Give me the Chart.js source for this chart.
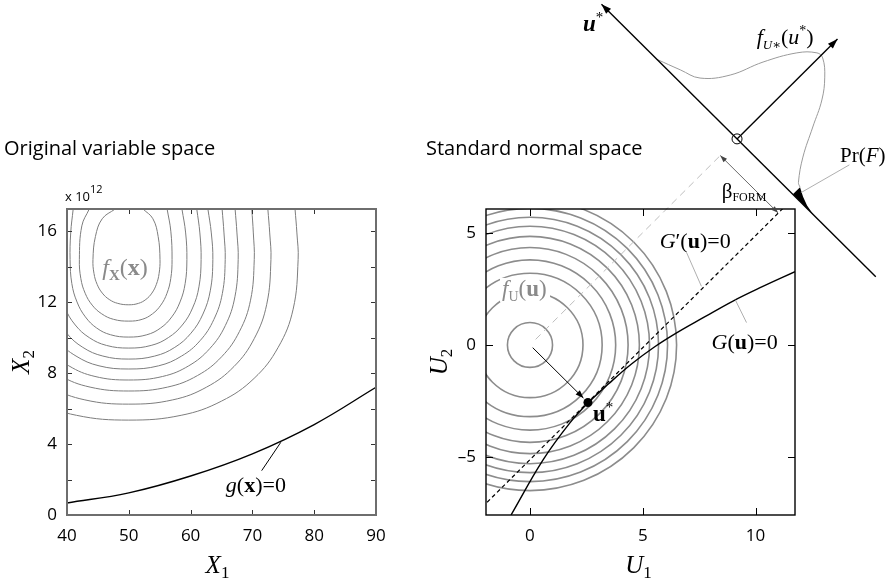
<!DOCTYPE html>
<html>
<head>
<meta charset="utf-8">
<script src="https://cdn.jsdelivr.net/npm/chart.js@4.4.1/dist/chart.umd.min.js"></script>
<style>
  body { margin: 0; background: #fff; width: 887px; height: 582px; position: relative; overflow: hidden; }
  #left { position: absolute; left: 0; top: 0; }
  #right { position: absolute; left: 400px; top: 0; }
</style>
</head>
<body>
<canvas id="left" width="400" height="582"></canvas>
<canvas id="right" width="487" height="582"></canvas>
<script>
// ---------- left panel: original variable space (X2 in units of 10^12) ----------
const x1Ticks = [40, 50, 60, 70, 80, 90];
const x2Ticks = [0, 2, 4, 6, 8, 10, 12, 14, 16];
const x2Labelled = [0, 4, 8, 12, 16];

// limit state g(x)=0
const gX1 = [40, 50, 60, 70, 80, 90];
const gX2 = [0.68, 1.25, 2.2, 3.45, 5.1, 7.2];

// contour lines of f_X(x), innermost first as [x1, x2]
const fxContours = [
  [[47.8,17.25],[45.7,16.7],[44.6,15.7],[44.2,14.4],[44.37,13.61],[44.88,13.0],[45.71,12.51],[46.83,12.15],[48.21,11.93],[50,11.85],
   [51.56,11.93],[52.76,12.15],[53.74,12.51],[54.46,13.0],[54.9,13.61],[55.05,14.4],[54.75,15.7],[53.9,16.7],[52.3,17.25]],
  [[43.6,17.25],[42.4,16.3],[42.0,14.4],[42.24,13.33],[42.94,12.5],[44.08,11.83],[45.62,11.34],[47.53,11.03],[50,10.93],
   [52.16,11.03],[53.83,11.34],[55.18,11.83],[56.18,12.5],[56.79,13.33],[57.0,14.4],[56.8,16.0],[56.2,17.25]],
  [[41.0,17.25],[40.6,15.9],[40.5,14.4],[40.78,13.05],[41.62,12.01],[42.97,11.17],[44.8,10.54],[47.06,10.16],[50,10.03],
   [52.91,10.16],[55.14,10.54],[56.96,11.17],[58.29,12.01],[59.12,13.05],[59.4,14.4],[59.2,15.9],[58.6,17.25]],
  [[38.3,14.4],[38.65,12.86],[39.68,11.67],[41.34,10.71],[43.6,10.0],[46.38,9.56],[50,9.41],
   [53.62,9.56],[56.4,10.0],[58.66,10.71],[60.32,11.67],[61.35,12.86],[61.7,14.4],[61.5,15.9],[61.0,17.25]],
  [[36.4,14.4],[36.8,12.67],[38.0,11.33],[39.94,10.25],[42.56,9.45],[45.8,8.96],[50,8.79],
   [54.2,8.96],[57.44,9.45],[60.06,10.25],[62.0,11.33],[63.2,12.67],[63.6,14.4],[63.35,15.9],[62.8,17.25]],
  [[34.4,14.4],[34.86,12.49],[36.24,11.02],[38.46,9.83],[41.46,8.96],[45.18,8.41],[50,8.23],
   [54.82,8.41],[58.54,8.96],[61.54,9.83],[63.76,11.02],[65.14,12.49],[65.6,14.4],[65.4,15.9],[65.1,17.25]],
  [[32.3,14.4],[32.83,12.3],[34.38,10.68],[36.9,9.38],[40.3,8.41],[44.53,7.81],[50,7.61],
   [55.47,7.81],[59.7,8.41],[63.1,9.38],[65.62,10.68],[67.17,12.3],[67.7,14.4],[67.5,15.9],[67.2,17.25]],
  [[29.7,14.4],[30.3,12.11],[32.09,10.35],[34.98,8.92],[38.89,7.86],[43.73,7.21],[50,6.99],
   [56.27,7.21],[61.11,7.86],[65.02,8.92],[67.91,10.35],[69.7,12.11],[70.3,14.4],[70.15,15.9],[69.9,17.25]],
  [[27,14.4],[27.68,11.88],[29.71,9.94],[32.98,8.37],[37.41,7.21],[42.89,6.49],[50,6.25],
   [57.11,6.49],[62.59,7.21],[67.02,8.37],[70.29,9.94],[72.32,11.88],[73.0,14.4],[72.8,15.9],[72.5,17.25]],
  [[22.6,14.4],[23.41,11.6],[25.83,9.45],[29.73,7.7],[35.0,6.42],[41.53,5.62],[50,5.35],
   [58.47,5.62],[65.0,6.42],[70.27,7.7],[74.17,9.45],[76.59,11.6],[77.4,14.4],[77.2,15.9],[76.9,17.25]]
];

// ---------- right panel: standard normal space ----------
const u1Ticks = [0, 5, 10];
const u2Ticks = [-5, 0, 5];
const fuRadii = [1, 2.35, 3.2, 3.8, 4.35, 4.85, 5.3, 5.7, 6.1, 6.5];

// limit state G(u)=0
const gU1 = [-0.84, 0.58, 1.77, 2.57, 3.5, 4.5, 5.5, 6.5, 7.74, 8.98, 10.3, 11.75];
const gU2 = [-7.59, -5.13, -3.48, -2.59, -1.72, -0.85, -0.1, 0.54, 1.25, 1.95, 2.6, 3.27];

// linearised limit state G'(u)=0
const tangentU1 = [-3, 12];
const tangentU2 = [-8.12, 6.88];

const uStar = [2.57, -2.57];
const betaForm = 3.62;

// projected view: origin of the rotated frame and its axes (s along u*, t up)
const projCentre = [9.18, 9.2];
const projAxisS = [-8.5, 8.7];
const projAxisT = 6.3;
const pdfS = [-5.02, -3.96, -3.08, -2.23, -1.61, -0.84, -0.21, 0.13, 0.8, 1.43, 2.0, 2.64, 3.3, 3.5];
const pdfT = [0, 0.4, 0.76, 1.8, 3.24, 4.59, 5.22, 5.24, 4.7, 3.89, 2.75, 1.49, 0.55, 0.45];
const tailS = [3.5, 3.9, 4.3, 4.8];
const tailT = [0.45, 0.24, 0.09, 0];

// ---------- helpers ----------
const SERIF = '"Liberation Serif", "DejaVu Serif", serif';
const SANS = '"Open Sans", "DejaVu Sans", sans-serif';
const rm = s => `${s}px ${SERIF}`;
const it = s => `italic ${s}px ${SERIF}`;
const bf = s => `bold ${s}px ${SERIF}`;
const bi = s => `italic bold ${s}px ${SERIF}`;

function drawRich(ctx, x, y, parts, align) {
  let w = 0;
  parts.forEach(p => { ctx.font = p[1]; w += ctx.measureText(p[0]).width; });
  let cx = align === 'center' ? x - w / 2 : x;
  parts.forEach(p => {
    ctx.font = p[1];
    ctx.fillText(p[0], cx, y + (p[2] || 0));
    cx += ctx.measureText(p[0]).width;
  });
  return w;
}

function line(ctx, x0, y0, x1, y1) {
  ctx.beginPath(); ctx.moveTo(x0, y0); ctx.lineTo(x1, y1); ctx.stroke();
}

function arrowHead(ctx, x0, y0, x1, y1, len, half) {
  const a = Math.atan2(y1 - y0, x1 - x0);
  const bx = x1 - len * Math.cos(a), by = y1 - len * Math.sin(a);
  ctx.beginPath();
  ctx.moveTo(x1, y1);
  ctx.lineTo(bx + half * Math.sin(a), by - half * Math.cos(a));
  ctx.lineTo(bx - half * Math.sin(a), by + half * Math.cos(a));
  ctx.closePath();
  ctx.fill();
}

const rot = (s, t) => ({
  x: projCentre[0] + (s + t) / Math.SQRT2,
  y: projCentre[1] + (t - s) / Math.SQRT2
});

// frame with inward ticks on all four sides
const frameTicks = {
  id: 'frameTicks',
  afterDatasetsDraw(chart, args, opts) {
    const { ctx, chartArea: a, scales: { x, y } } = chart;
    ctx.save();
    ctx.strokeStyle = opts.tickColor;
    ctx.lineWidth = 1;
    x.ticks.forEach(t => {
      const p = Math.round(x.getPixelForValue(t.value)) + 0.5;
      if (p < a.left + 2 || p > a.right - 2) return;
      line(ctx, p, a.bottom, p, a.bottom - opts.len);
      line(ctx, p, a.top, p, a.top + opts.len);
    });
    y.ticks.forEach(t => {
      const p = Math.round(y.getPixelForValue(t.value)) + 0.5;
      if (p < a.top + 2 || p > a.bottom - 2) return;
      line(ctx, a.left, p, a.left + opts.len, p);
      line(ctx, a.right, p, a.right - opts.len, p);
    });
    ctx.strokeStyle = opts.color;
    ctx.lineWidth = opts.width;
    ctx.strokeRect(a.left, a.top, a.width, a.height);
    ctx.restore();
  }
};

function axisScales(xMin, xMax, xT, yMin, yMax, yT, yLabel, yWidth) {
  const tickFont = { family: SANS, size: 17 };
  return {
    x: {
      type: 'linear', min: xMin, max: xMax,
      grid: { display: false, drawTicks: false }, border: { display: false },
      afterBuildTicks: s => { s.ticks = xT.map(v => ({ value: v })); },
      afterFit: s => { s.height = 67; },
      ticks: { color: '#000', font: tickFont, padding: 11, autoSkip: false, maxRotation: 0 }
    },
    y: {
      type: 'linear', min: yMin, max: yMax,
      grid: { display: false, drawTicks: false }, border: { display: false },
      afterBuildTicks: s => { s.ticks = yT.map(v => ({ value: v })); },
      afterFit: s => { s.width = yWidth; },
      ticks: { color: '#000', font: tickFont, padding: 10, autoSkip: false, callback: yLabel }
    }
  };
}

// ---------- left chart ----------
const leftDecor = {
  id: 'leftDecor',
  afterDraw(chart) {
    const { ctx, chartArea: a, scales: { x, y } } = chart;
    ctx.save();
    ctx.fillStyle = '#000';
    ctx.textBaseline = 'alphabetic';
    ctx.font = `20px ${SANS}`;
    ctx.fillText('Original variable space', 4, 155);
    drawRich(ctx, a.left - 2, a.top - 8, [['x 10', `13px ${SANS}`], ['12', `11px ${SANS}`, -8]]);

    // limit-state label with leader
    ctx.strokeStyle = '#000'; ctx.lineWidth = 1;
    line(ctx, x.getPixelForValue(74.6), y.getPixelForValue(4.1), x.getPixelForValue(71.5), y.getPixelForValue(2.5));
    drawRich(ctx, x.getPixelForValue(65.7), y.getPixelForValue(1.3),
      [['g', it(22)], ['(', rm(22)], ['x', bf(22)], [')=0', rm(22)]]);

    ctx.fillStyle = '#8a8a8a';
    drawRich(ctx, x.getPixelForValue(45.7), y.getPixelForValue(13.53),
      [['f', it(24)], ['X', bf(15), 5], ['(', rm(24)], ['x', bf(24)], [')', rm(24)]]);

    ctx.fillStyle = '#000';
    drawRich(ctx, (a.left + a.right) / 2 - 4, 573, [['X', it(25)], ['1', rm(17), 5]], 'center');
    ctx.translate(29, (a.top + a.bottom) / 2);
    ctx.rotate(-Math.PI / 2);
    drawRich(ctx, 0, 0, [['X', it(25)], ['2', rm(17), 5]], 'center');
    ctx.restore();
  }
};

new Chart(document.getElementById('left'), {
  type: 'scatter',
  data: {
    datasets: [
      ...fxContours.map(c => ({
        data: c.map(p => ({ x: p[0], y: p[1] })),
        showLine: true, pointRadius: 0, borderColor: '#7d7d7d', borderWidth: 1, tension: 0.4
      })),
      {
        data: gX1.map((v, i) => ({ x: v, y: gX2[i] })),
        showLine: true, pointRadius: 0, borderColor: '#000', borderWidth: 1.4, tension: 0.4
      }
    ]
  },
  options: {
    responsive: false, animation: false,
    layout: { padding: { left: 0, top: 209, right: 24, bottom: 0 } },
    plugins: {
      legend: { display: false }, tooltip: { enabled: false },
      frameTicks: { color: '#6e6e6e', width: 2, tickColor: '#333', len: 5 }
    },
    scales: axisScales(40, 90, x1Ticks, 0, 17.25, x2Ticks,
      v => (x2Labelled.includes(v) ? String(v) : ''), 67)
  },
  plugins: [frameTicks, leftDecor]
});

// ---------- right chart ----------
const rightDecor = {
  id: 'rightDecor',
  beforeDatasetsDraw(chart) {
    const { ctx, chartArea: a, scales: { x, y } } = chart;
    ctx.save();
    ctx.beginPath(); ctx.rect(a.left, a.top, a.width, a.height); ctx.clip();
    ctx.strokeStyle = '#8c8c8c'; ctx.lineWidth = 1.6;
    const cx = x.getPixelForValue(0), cy = y.getPixelForValue(0);
    fuRadii.forEach(r => {
      ctx.beginPath();
      ctx.ellipse(cx, cy, x.getPixelForValue(r) - cx, cy - y.getPixelForValue(r), 0, 0, 2 * Math.PI);
      ctx.stroke();
    });
    ctx.restore();
  },
  afterDraw(chart) {
    const { ctx, chartArea: a, scales: { x, y } } = chart;
    const P = (u1, u2) => [x.getPixelForValue(u1), y.getPixelForValue(u2)];
    const R = (s, t) => { const q = rot(s, t); return P(q.x, q.y); };
    ctx.save();
    ctx.textBaseline = 'alphabetic';
    ctx.fillStyle = '#000';
    ctx.font = `20px ${SANS}`;
    ctx.fillText('Standard normal space', 26, 155);

    // f_U(u) label on white
    let [lx, ly] = P(-1.24, 2.19);
    ctx.fillStyle = '#fff';
    ctx.fillRect(lx - 2, ly - 18, 50, 24);
    ctx.fillStyle = '#8a8a8a';
    drawRich(ctx, lx, ly, [['f', it(23)], ['U', rm(14), 5], ['(', rm(23)], ['u', bf(23)], [')', rm(23)]]);

    // arrow from origin to design point
    ctx.strokeStyle = '#000'; ctx.fillStyle = '#000'; ctx.lineWidth = 1;
    const o = P(0.12, -0.12), d = P(uStar[0] - 0.2, uStar[1] + 0.2);
    line(ctx, o[0], o[1], d[0], d[1]);
    arrowHead(ctx, o[0], o[1], d[0], d[1], 8, 3);
    const us = P(uStar[0], uStar[1]);
    ctx.beginPath(); ctx.arc(us[0], us[1], 4.5, 0, 2 * Math.PI); ctx.fill();
    [lx, ly] = P(2.79, -3.39);
    drawRich(ctx, lx, ly, [['u', bf(23)], ['*', rm(15), -9]]);

    // leaders for G'(u)=0 and G(u)=0
    ctx.strokeStyle = '#9a9a9a'; ctx.lineWidth = 0.8;
    let p0 = P(6.95, 4.11), p1 = P(7.6, 2.62);
    line(ctx, p0[0], p0[1], p1[0], p1[1]);
    p0 = P(9.1, 2.02); p1 = P(9.6, 1.0);
    line(ctx, p0[0], p0[1], p1[0], p1[1]);
    ctx.fillStyle = '#000';
    [lx, ly] = P(5.75, 4.33);
    drawRich(ctx, lx, ly, [['G', it(22)], ['\u2032', rm(22)], ['(', rm(22)], ['u', bf(22)], [')=0', rm(22)]]);
    [lx, ly] = P(8.05, -0.18);
    drawRich(ctx, lx, ly, [['G', it(22)], ['(', rm(22)], ['u', bf(22)], [')=0', rm(22)]]);

    // projected view: u* axis and density axis
    ctx.strokeStyle = '#000'; ctx.lineWidth = 1.4;
    const e0 = R(projAxisS[0], 0), e1 = R(projAxisS[1], 0);
    line(ctx, e1[0], e1[1], e0[0], e0[1]);
    arrowHead(ctx, e1[0], e1[1], e0[0], e0[1], 10, 3.5);
    const c0 = R(0, 0), t1 = R(0, projAxisT);
    line(ctx, c0[0], c0[1], t1[0], t1[1]);
    arrowHead(ctx, c0[0], c0[1], t1[0], t1[1], 10, 3.5);
    ctx.lineWidth = 1;
    ctx.beginPath(); ctx.arc(c0[0], c0[1], 5, 0, 2 * Math.PI); ctx.stroke();

    // failure tail
    ctx.beginPath();
    tailS.forEach((s, i) => { const q = R(s, tailT[i]); i ? ctx.lineTo(q[0], q[1]) : ctx.moveTo(q[0], q[1]); });
    const b0 = R(tailS[0], 0); ctx.lineTo(b0[0], b0[1]);
    ctx.closePath(); ctx.fill();

    // beta arrow
    ctx.strokeStyle = '#444'; ctx.fillStyle = '#444'; ctx.lineWidth = 0.8;
    const ba = R(0, -1.05), bb = R(betaForm, -1.05);
    line(ctx, ba[0], ba[1], bb[0], bb[1]);
    arrowHead(ctx, ba[0], ba[1], bb[0], bb[1], 7, 2.5);
    arrowHead(ctx, bb[0], bb[1], ba[0], ba[1], 7, 2.5);

    // Pr(F) leader
    ctx.strokeStyle = '#9a9a9a';
    p0 = R(3.7, 0.3); p1 = P(14.16, 8.04);
    line(ctx, p0[0], p0[1], p1[0], p1[1]);

    ctx.fillStyle = '#000';
    [lx, ly] = P(8.5, 6.56);
    drawRich(ctx, lx, ly, [['\u03b2', rm(21)], ['FORM', rm(12), 3]]);
    [lx, ly] = P(13.75, 8.17);
    drawRich(ctx, lx, ly, [['Pr(', rm(21)], ['F', it(21)], [')', rm(21)]]);
    [lx, ly] = P(2.35, 14.02);
    drawRich(ctx, lx, ly, [['u', bi(23)], ['*', rm(15), -9]]);
    [lx, ly] = P(10.05, 13.44);
    drawRich(ctx, lx, ly, [['f', it(22)], ['U\u2217', it(13), 5], ['(', rm(22)], ['u', it(22)], ['*', rm(14), -9], [')', rm(22)]]);

    // axis titles
    drawRich(ctx, (a.left + a.right) / 2 - 2, 573, [['U', it(25)], ['1', rm(17), 5]], 'center');
    ctx.translate(47, (a.top + a.bottom) / 2);
    ctx.rotate(-Math.PI / 2);
    drawRich(ctx, 0, 0, [['U', it(25)], ['2', rm(17), 5]], 'center');
    ctx.restore();
  }
};

new Chart(document.getElementById('right'), {
  type: 'scatter',
  data: {
    datasets: [
      {
        // line from the origin towards the projection centre
        data: [{ x: 0.25, y: 0.25 }, { x: rot(0, -1.05).x, y: rot(0, -1.05).y }],
        showLine: true, pointRadius: 0, borderColor: '#bdbdbd', borderWidth: 1, borderDash: [7, 5], clip: false
      },
      {
        data: tangentU1.map((v, i) => ({ x: v, y: tangentU2[i] })),
        showLine: true, pointRadius: 0, borderColor: '#000', borderWidth: 1.2, borderDash: [4, 3]
      },
      {
        data: gU1.map((v, i) => ({ x: v, y: gU2[i] })),
        showLine: true, pointRadius: 0, borderColor: '#000', borderWidth: 1.4, tension: 0.4
      },
      {
        // projected standard normal density along u*
        data: pdfS.map((s, i) => rot(s, pdfT[i])),
        showLine: true, pointRadius: 0, borderColor: '#9a9a9a', borderWidth: 1, tension: 0.4, clip: false
      }
    ]
  },
  options: {
    responsive: false, animation: false,
    layout: { padding: { left: 0, top: 209, right: 92, bottom: 0 } },
    plugins: {
      legend: { display: false }, tooltip: { enabled: false },
      frameTicks: { color: '#000', width: 1.4, tickColor: '#000', len: 7 }
    },
    scales: axisScales(-1.95, 11.75, u1Ticks, -7.59, 6.07, u2Ticks,
      v => (v < 0 ? '\u2013' + Math.abs(v) : String(v)), 86)
  },
  plugins: [frameTicks, rightDecor]
});
</script>
</body>
</html>
